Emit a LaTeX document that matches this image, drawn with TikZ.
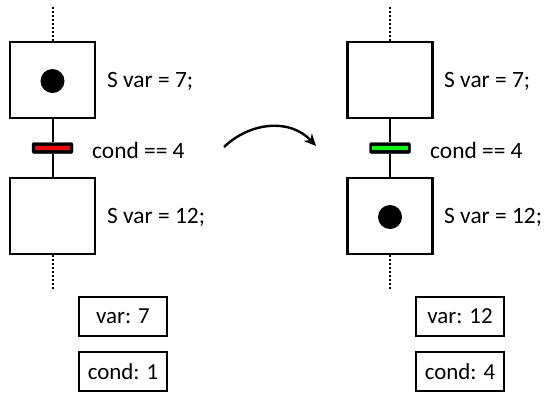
\documentclass[tikz,border=0pt]{standalone}
\usepackage{fontspec}
\setmainfont{Carlito}
\usetikzlibrary{arrows.meta}
\begin{document}
\begin{tikzpicture}[x=1bp,y=-1bp,
  stepbox/.style={draw=black,line width=2.6bp,fill=white,minimum width=85bp,minimum height=76bp,inner sep=0pt},
  varbox/.style={draw=black,line width=2.2bp,minimum width=88bp,minimum height=39bp,inner sep=0pt,font=\fontsize{23}{26}\selectfont},
  lbl/.style={anchor=west,inner sep=0pt,font=\fontsize{23.5}{26}\selectfont},
  token/.style={circle,fill=black,minimum size=24bp,inner sep=0pt},
  link/.style={line width=2bp},
  dots/.style={line width=2bp,dash pattern=on 2bp off 2bp},
  barbox/.style={draw=black,fill=black,rounded corners=2bp,minimum width=41bp,minimum height=11bp,inner sep=0pt},
]
\useasboundingbox (0,0) rectangle (548,392);
% left
\coordinate (lt) at (52.5,7);
\coordinate (lb) at (52.5,289);
\node[stepbox] (l1) at (52.5,80) {};
\node[token] (ld1) at (52.5,81) {};
\node[barbox] (lbar) at (52.5,148) {};
\fill[red] ([xshift=3bp,yshift=-2bp]lbar.west) rectangle ([xshift=-3bp,yshift=2bp]lbar.east);
\node[stepbox] (l2) at (52.5,216) {};
\draw[dots] (lt) -- (l1.north);
\draw[link] (l1.south) -- (lbar.north);
\draw[link] (lbar.south) -- (l2.north);
\draw[dots] (l2.south) -- (lb);
\node[lbl] (lt1) at (107,81) {S var = 7;};
\node[lbl] (lc) at (92,150) {cond == 4};
\node[lbl] (lt2) at (107,217) {S var = 12;};
\node[varbox] (lv) at (123,316.5) {var: 7};
\node[varbox] (lcv) at (123,371.5) {cond: 1};
% right
\coordinate (rt) at (390,7);
\coordinate (rb) at (390,289);
\node[stepbox] (r1) at (390,80) {};
\node[barbox] (rbar) at (390,148) {};
\fill[green] ([xshift=3bp,yshift=-2bp]rbar.west) rectangle ([xshift=-3bp,yshift=2bp]rbar.east);
\node[stepbox] (r2) at (390,216) {};
\node[token] (rd2) at (390,217) {};
\draw[dots] (rt) -- (r1.north);
\draw[link] (r1.south) -- (rbar.north);
\draw[link] (rbar.south) -- (r2.north);
\draw[dots] (r2.south) -- (rb);
\node[lbl] (rt1) at (444,81) {S var = 7;};
\node[lbl] (rc) at (430,150) {cond == 4};
\node[lbl] (rt2) at (444,217) {S var = 12;};
\node[varbox] (rv) at (460,316.5) {var: 12};
\node[varbox] (rcv) at (460,371.5) {cond: 4};
% arrow
\coordinate (a1) at (224,147);
\coordinate (a2) at (316,146);
\draw[line width=2.4bp,-{Stealth[length=12bp,width=11bp]}] (a1) .. controls (250,122) and (290,118) .. (a2);
\end{tikzpicture}
\end{document}
